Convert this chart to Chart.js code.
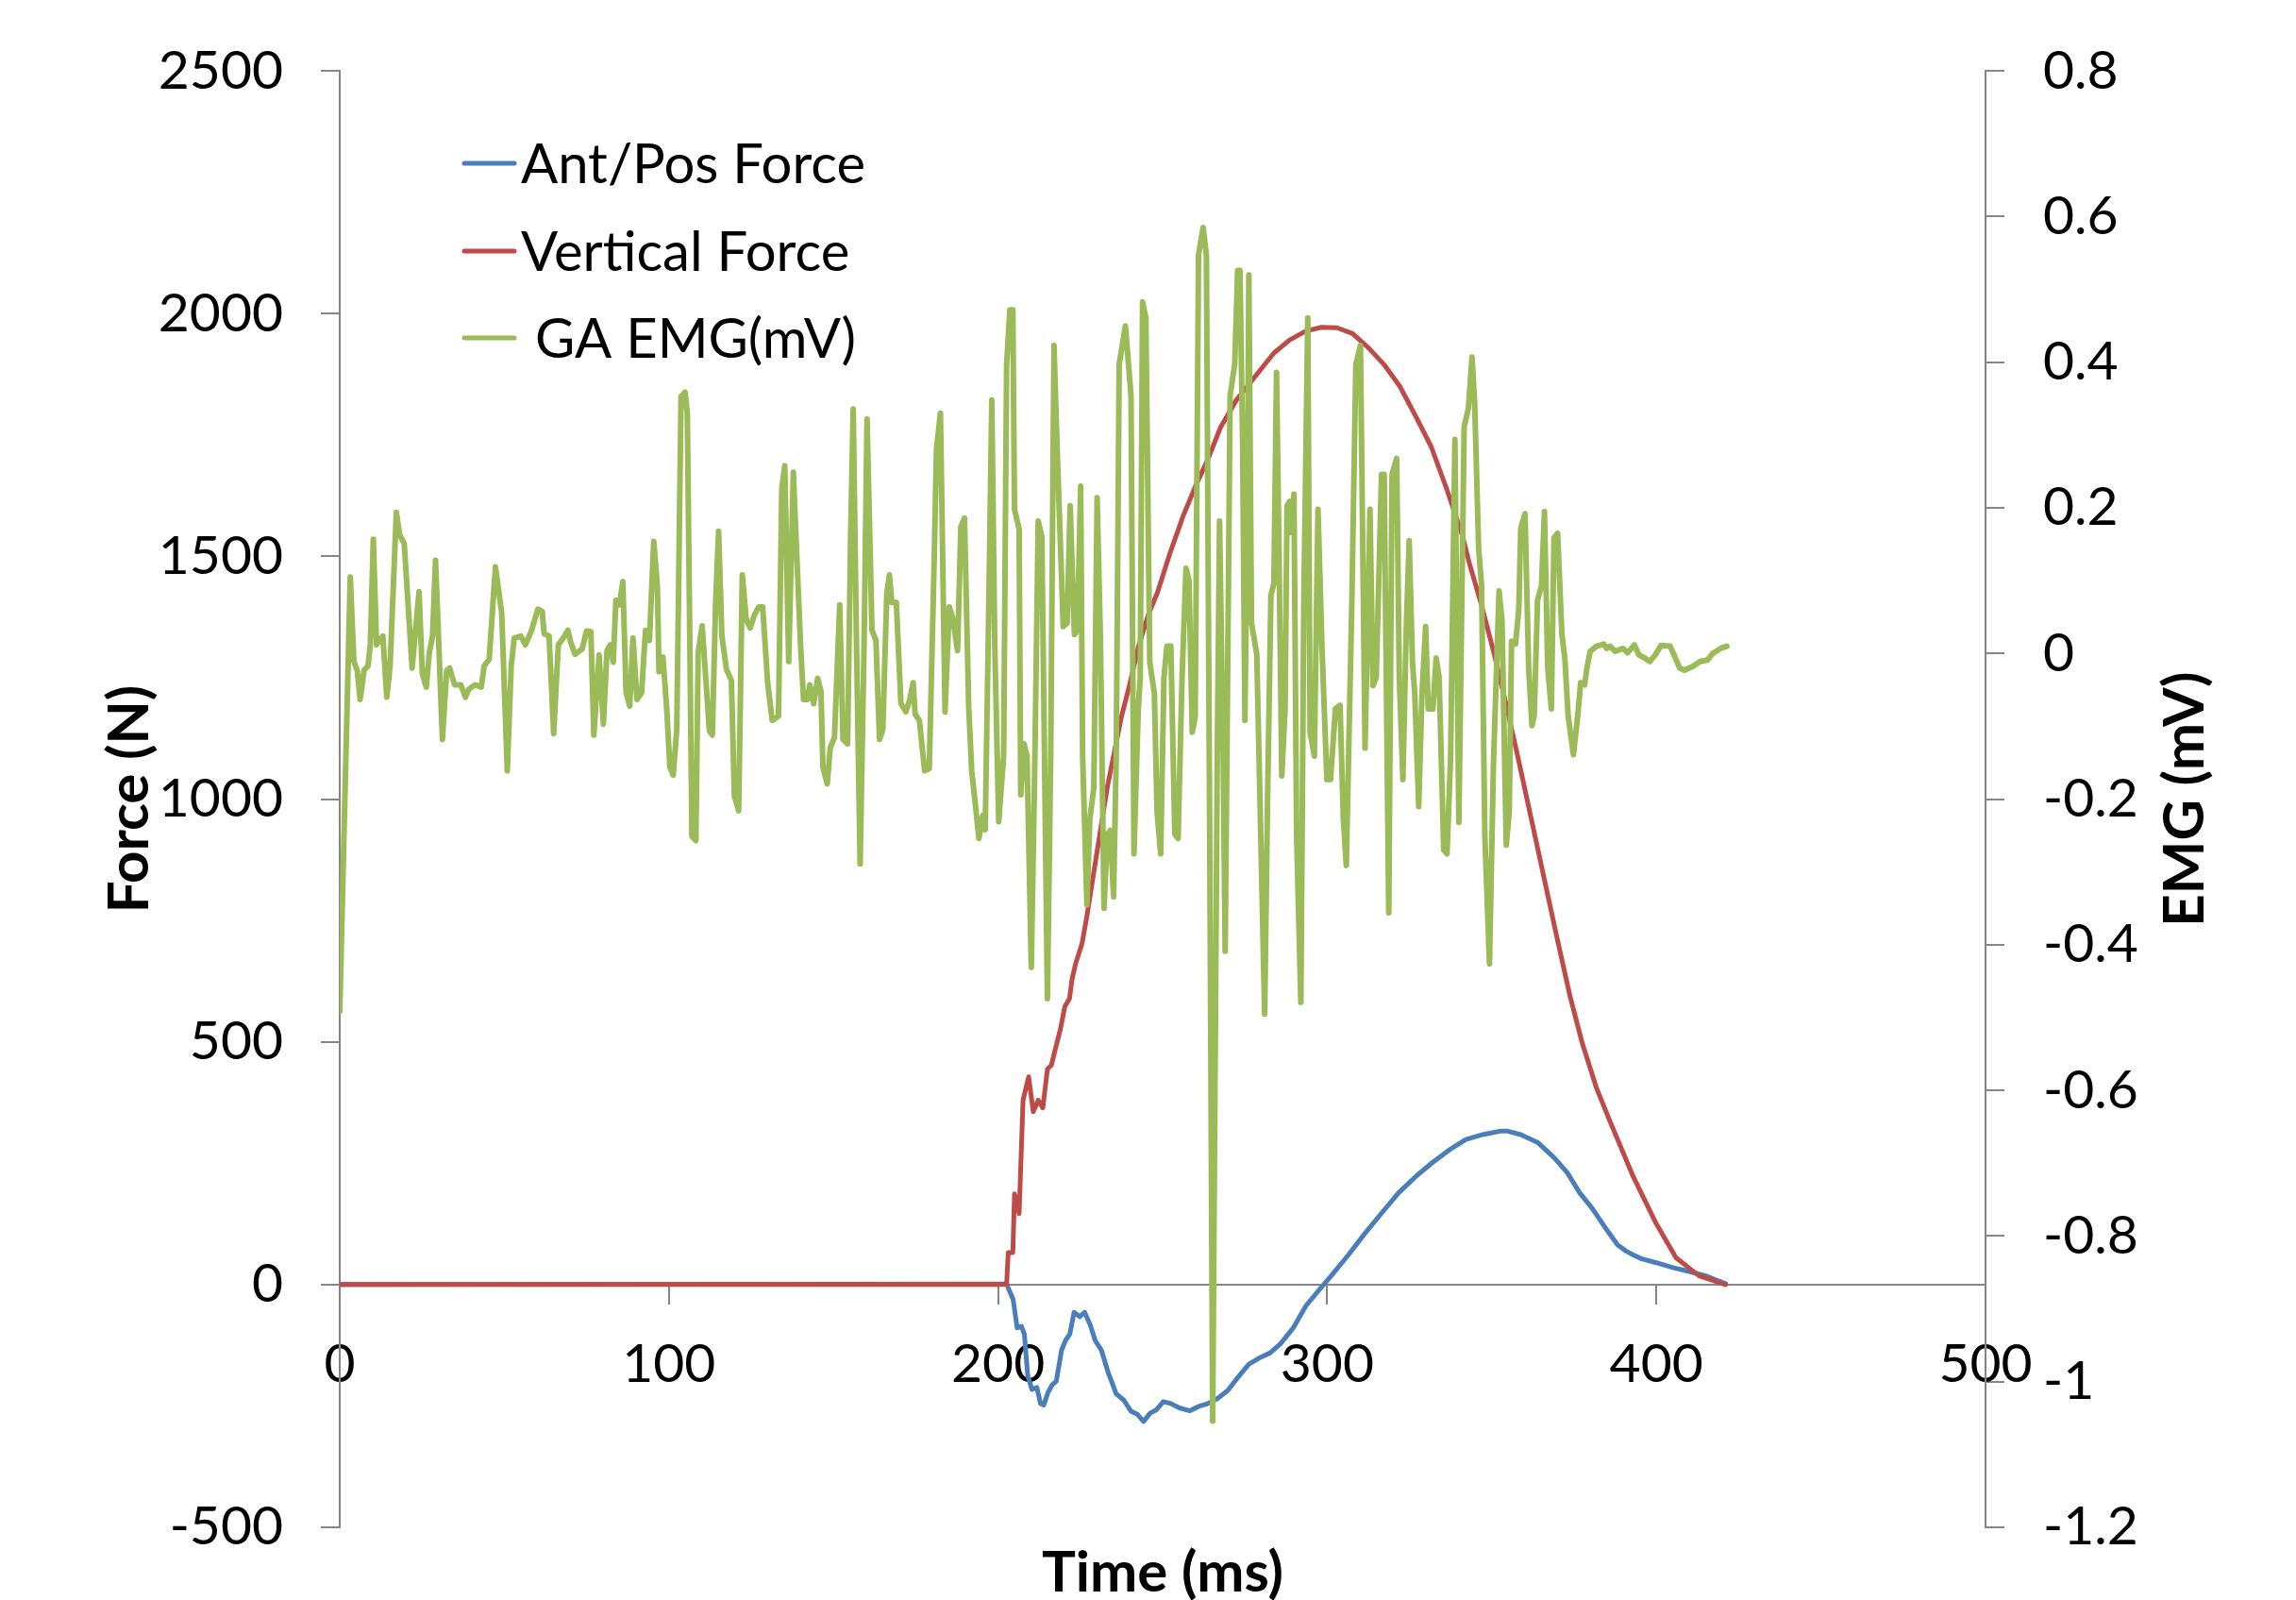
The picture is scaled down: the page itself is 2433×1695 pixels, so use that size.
<!DOCTYPE html>
<html>
<head>
<meta charset="utf-8">
<script src="https://cdn.jsdelivr.net/npm/chart.js@4.4.1/dist/chart.umd.min.js"></script>
<style>
  html, body { margin: 0; padding: 0; background: #fff; }
  #wrap { width: 2433px; height: 1695px; }
</style>
</head>
<body>
<div id="wrap"><canvas id="forceEmgChart" width="2433" height="1695"></canvas></div>
<script>
// time axis ticks (ms) and the two y axes
var timeTicks = [0, 100, 200, 300, 400, 500]
var forceTicks = [-500, 0, 500, 1000, 1500, 2000, 2500]
var emgTicks = [-1.2, -1, -0.8, -0.6, -0.4, -0.2, 0, 0.2, 0.4, 0.6, 0.8]

// Ant/Pos force (N)
var apTime = [
  0, 202.6, 204.6, 205.8, 207.1, 208.0, 209.0, 210.3, 211.8, 212.9,
  213.9, 215.2, 216.5, 217.7, 219.3, 220.5, 221.8, 223.1, 224.8, 226.3,
  228.0, 229.5, 231.4, 233.4, 235.9, 238.2, 240.4, 242.3, 244.2, 246.2,
  248.1, 250.2, 252.5, 255.1, 258.3, 260.9, 263.4, 266.6, 269.8, 273.0,
  276.2, 279.4, 282.6, 285.8, 289.7, 293.5, 297.4, 301.2, 306.3, 311.4,
  316.5, 321.7, 326.8, 331.9, 337.0, 342.1, 347.3, 352.4, 354.9, 358.8,
  363.9, 369.0, 372.9, 376.7, 380.5, 384.4, 388.2, 390.8, 393.3, 395.6,
  400, 405, 410, 415, 418, 421,
]
var apForce = [
  0, 1, -31, -89, -86, -102, -187, -216, -212, -245,
  -248, -222, -206, -199, -135, -115, -102, -57, -66, -57,
  -83, -115, -135, -180, -225, -238, -261, -267, -282, -265,
  -258, -241, -245, -254, -260, -251, -246, -235, -218, -190,
  -164, -151, -141, -122, -89, -44, -12, 18, 60, 105,
  147, 189, 222, 251, 277, 299, 309, 316, 316, 309,
  293, 261, 231, 189, 157, 118, 82, 69, 60, 53,
  45, 35, 27, 18, 10, 2,
]

// Vertical force (N)
var vertTime = [
  0, 201, 202.6, 203.1, 204.5, 205.0, 206.4, 207.6, 209.3, 210.7,
  212.2, 213.6, 215.0, 216.2, 217.4, 218.9, 220.3, 221.7, 222.5, 223.6,
  225.5, 227.0, 229.4, 231.3, 233.2, 235.1, 237.5, 239.9, 242.7, 245.6,
  248.5, 252.3, 256.1, 260.0, 263.8, 267.6, 272.4, 279.1, 283.8, 288.6,
  293.4, 298.2, 303.0, 307.7, 312.5, 317.3, 322.1, 326.8, 331.6, 336.4,
  341.2, 343.1, 346.9, 350.7, 354.5, 358.4, 362.2, 366.0, 369.8, 373.7,
  377.5, 381.8, 386, 393, 400, 406, 413, 421,
]
var vertForce = [
  0, 0, 1, 66, 66, 187, 146, 380, 428, 356,
  380, 364, 444, 452, 485, 525, 573, 589, 630, 662,
  702, 759, 863, 944, 1025, 1089, 1170, 1234, 1315, 1379,
  1427, 1508, 1581, 1645, 1701, 1766, 1822, 1879, 1919, 1946,
  1964, 1972, 1971, 1959, 1930, 1895, 1850, 1790, 1726, 1637,
  1540, 1488, 1399, 1300, 1191, 1072, 953, 834, 715, 596,
  497, 405, 335, 222, 125, 55, 18, 0,
]

// GA EMG (mV)
var emgTime = [
  0, 3.2, 4.3, 5.3, 6.2, 7.4, 8.6, 9.3, 10.2, 11.2,
  13.1, 14.3, 15.3, 17.2, 18.2, 19.6, 22.0, 24.1, 25.1, 26.3,
  27.2, 28.2, 29.1, 30.1, 31.2, 32.5, 33.4, 34.9, 36.8, 38.2,
  39.2, 41.1, 43.0, 43.9, 45.4, 47.3, 49.2, 50.9, 52.1, 53.0,
  55.0, 56.4, 58.3, 60.2, 61.5, 62.1, 63.6, 65.0, 66.4, 67.9,
  69.3, 70.2, 71.5, 73.6, 75.0, 76.3, 77.2, 78.8, 80.1, 81.2,
  82.2, 83.1, 83.9, 85.0, 86.0, 87.0, 88.1, 89.1, 90.3, 91.7,
  92.9, 94.1, 95.4, 96.5, 97.0, 98.2, 99.4, 100.3, 101.3, 102.4,
  103.7, 104.9, 105.6, 107.0, 108.2, 108.9, 110.1, 111.3, 112.3, 113.2,
  114.2, 115.1, 116.1, 117.5, 119.0, 119.9, 121.2, 122.3, 123.5, 124.7,
  126.0, 127.3, 128.5, 130.0, 131.4, 133.3, 134.3, 135.2, 136.4, 137.8,
  140.0, 140.9, 142.1, 142.8, 144.0, 145.2, 146.2, 146.8, 148.1, 149.0,
  150.3, 151.9, 152.9, 154.3, 155.2, 156.0, 157.0, 158.1, 159.3, 160.2,
  161.7, 162.9, 164.0, 165.0, 166.2, 167.0, 167.7, 169.1, 170.5, 172.0,
  173.2, 174.2, 174.8, 176.1, 177.7, 179.1, 180.6, 181.3, 182.5, 183.9,
  185.2, 186.3, 187.7, 188.7, 189.8, 191.1, 192.0, 194.2, 195.4, 196.1,
  197.3, 198.1, 199.0, 200.2, 201.7, 202.6, 203.6, 204.5, 205.0, 206.4,
  206.9, 207.9, 208.8, 210.1, 211.2, 212.2, 213.3, 215.0, 216.0, 217.0,
  217.9, 219.8, 221.0, 221.9, 223.2, 224.1, 225.1, 225.7, 227.0, 227.9,
  229.1, 230.1, 231.1, 232.2, 233.2, 234.1, 235.1, 235.9, 236.8, 238.7,
  240.4, 241.3, 242.6, 243.2, 243.9, 244.9, 246.1, 247.5, 248.3, 249.4,
  250.4, 251.3, 252.5, 253.7, 254.7, 255.9, 257.1, 258.0, 259.0, 259.9,
  260.9, 262.3, 263.3, 264.3, 265.2, 266.6, 267.3, 268.4, 269.0, 270.5,
  271.9, 272.8, 273.5, 274.3, 275.0, 275.7, 276.2, 277.0, 278.6, 279.8,
  281.0, 281.9, 282.9, 283.8, 284.6, 285.3, 286.2, 287.2, 287.8, 288.6,
  289.1, 289.9, 290.7, 292.0, 292.9, 294.1, 294.8, 296.1, 297.2, 298.4,
  299.9, 301.0, 302.5, 303.9, 304.9, 305.8, 307.5, 308.7, 310.1, 311.5,
  313.0, 313.9, 314.9, 316.5, 317.3, 318.7, 319.7, 321.1, 321.9, 323.0,
  324.0, 324.9, 325.9, 326.6, 327.8, 328.8, 329.9, 330.7, 332.1, 333.1,
  334.0, 335.4, 336.4, 337.5, 338.8, 340.0, 341.6, 342.9, 344.0, 344.8,
  346.0, 346.9, 347.9, 349.3, 350.5, 352.2, 353.1, 354.4, 355.3, 356.0,
  357.2, 358.2, 358.8, 360.1, 361.2, 362.2, 362.9, 363.9, 365.1, 366.0,
  367.0, 368.1, 368.9, 370.0, 371.3, 372.2, 373.2, 374.8, 376.1, 377.0,
  378.2, 378.9, 379.9, 381.8, 384.0, 384.9, 385.9, 387.5, 389.9, 391.3,
  393.3, 394.7, 396.1, 398.0, 399.5, 401.4, 404.2, 407.1, 408.5, 410.9,
  413.3, 415.5, 417.1, 419.5, 421.4,
]
var emgMv = [
  -0.491, 0.105, -0.011, -0.023, -0.063, -0.023, -0.017, 0.012, 0.157, 0.012,
  0.024, -0.060, -0.017, 0.194, 0.163, 0.151, -0.020, 0.085, -0.028, -0.046,
  0.001, 0.024, 0.128, 0.012, -0.118, -0.023, -0.020, -0.043, -0.043, -0.060,
  -0.049, -0.043, -0.046, -0.017, -0.008, 0.119, 0.056, -0.161, -0.017, 0.021,
  0.024, 0.012, 0.032, 0.061, 0.058, 0.027, 0.024, -0.110, 0.012, 0.021,
  0.032, 0.015, -0.001, 0.006, 0.031, 0.030, -0.112, -0.002, -0.097, 0.004,
  0.012, -0.012, 0.073, 0.067, 0.099, -0.054, -0.072, 0.021, -0.063, -0.054,
  0.032, 0.018, 0.154, 0.093, -0.025, -0.005, -0.080, -0.156, -0.167, -0.104,
  0.353, 0.359, 0.330, -0.251, -0.257, 0.001, 0.038, -0.040, -0.106, -0.112,
  0.070, 0.168, 0.024, -0.022, -0.037, -0.196, -0.216, 0.108, 0.047, 0.035,
  0.053, 0.064, 0.064, -0.040, -0.092, -0.086, 0.226, 0.258, -0.011, 0.249,
  0.012, -0.063, -0.063, -0.043, -0.069, -0.034, -0.052, -0.156, -0.179, -0.130,
  -0.115, 0.067, -0.118, -0.124, 0.157, 0.336, 0.012, -0.289, 0.012, 0.322,
  0.032, 0.018, -0.118, -0.104, 0.082, 0.108, 0.070, 0.070, -0.069, -0.080,
  -0.063, -0.040, -0.083, -0.092, -0.161, -0.158, 0.128, 0.281, 0.330, -0.080,
  0.064, 0.047, 0.004, 0.174, 0.186, -0.075, -0.161, -0.254, -0.222, -0.242,
  0.099, 0.348, 0.012, -0.231, -0.141, 0.397, 0.472, 0.472, 0.198, 0.171,
  -0.194, -0.124, -0.141, -0.431, -0.141, 0.182, 0.160, -0.474, -0.141, 0.423,
  0.289, 0.037, 0.042, 0.203, 0.026, 0.031, 0.230, -0.141, -0.345, -0.227,
  -0.184, 0.214, 0.021, -0.350, -0.248, -0.243, -0.334, -0.141, 0.397, 0.450,
  0.354, -0.275, -0.076, -0.033, 0.483, 0.461, -0.012, -0.055, -0.216, -0.275,
  -0.033, 0.010, 0.010, -0.248, -0.254, -0.033, 0.117, 0.101, -0.108, -0.087,
  0.547, 0.585, 0.547, -0.248, -1.054, -0.141, 0.182, -0.141, -0.409, 0.354,
  0.397, 0.526, 0.526, 0.289, -0.092, 0.182, 0.520, 0.042, -0.001, -0.248,
  -0.495, -0.194, 0.080, 0.096, 0.386, 0.160, -0.168, -0.076, 0.203, 0.209,
  0.166, 0.219, -0.248, -0.479, 0.074, 0.461, -0.108, -0.141, 0.198, 0.010,
  -0.173, -0.173, -0.076, -0.071, -0.227, -0.291, 0.074, 0.397, 0.423, -0.130,
  0.198, -0.044, -0.033, 0.246, 0.246, -0.356, 0.246, 0.268, -0.033, -0.173,
  0.031, 0.155, -0.012, -0.055, -0.210, -0.055, 0.037, -0.076, -0.076, -0.006,
  -0.033, -0.270, -0.275, -0.141, 0.294, -0.232, 0.311, 0.337, 0.407, 0.344,
  0.145, 0.093, -0.251, -0.426, -0.152, 0.086, 0.046, -0.263, -0.218, 0.017,
  0.013, 0.060, 0.172, 0.192, -0.020, -0.099, -0.086, 0.073, 0.093, 0.195,
  -0.020, -0.076, 0.159, 0.165, 0.026, -0.007, -0.086, -0.139, -0.086, -0.040,
  -0.043, -0.020, 0.003, 0.010, 0.013, 0.007, 0.010, 0.003, 0.007, 0.001,
  0.012, -0.002, -0.005, -0.011, -0.003, 0.011, 0.010, -0.020, -0.023, -0.018,
  -0.011, -0.009, 0.000, 0.007, 0.010,
]

function toPoints(xs, ys) {
  return xs.map(function (x, i) { return { x: x, y: ys[i] } })
}

var axisGray = '#868686'
var tickFont = { family: 'Lato', size: 57 }
var titleFont = 'bold 60px Lato'

// legend + axis titles, drawn on top of the chart
var extras = {
  id: 'extras',
  afterDraw: function (chart) {
    var c = chart.ctx
    var a = chart.chartArea
    var sets = chart.data.datasets
    c.save()
    c.font = '58px Lato'
    c.fillStyle = '#000'
    c.textBaseline = 'middle'
    c.textAlign = 'left'
    c.lineWidth = 5
    c.lineCap = 'round'
    var rowY = [173, 266, 358]
    var textX = [552, 552, 567]
    sets.forEach(function (ds, i) {
      c.strokeStyle = ds.borderColor
      c.beginPath()
      c.moveTo(492, rowY[i])
      c.lineTo(545, rowY[i])
      c.stroke()
      c.fillText(ds.label, textX[i], rowY[i] + 2)
    })

    c.font = titleFont
    c.textAlign = 'center'
    c.textBaseline = 'alphabetic'
    var midY = (a.top + a.bottom) / 2
    c.save()
    c.translate(157, midY)
    c.rotate(-Math.PI / 2)
    c.fillText('Force (N)', 0, 0)
    c.restore()
    c.save()
    c.translate(2335, midY)
    c.rotate(-Math.PI / 2)
    c.fillText('EMG (mV)', 0, 0)
    c.restore()
    c.fillText('Time (ms)', (a.left + a.right) / 2, 1686)
    c.restore()
  },
}

var plainNumber = function (v) { return String(Math.round(v * 10) / 10) }

var ctx = document.getElementById('forceEmgChart').getContext('2d')
var myChart = new Chart(ctx, {
  type: 'line',
  data: {
    datasets: [
      {
        label: 'Ant/Pos Force',
        data: toPoints(apTime, apForce),
        borderColor: '#4A7EBB',
        borderWidth: 5,
        yAxisID: 'y',
        order: 3,
      },
      {
        label: 'Vertical Force',
        data: toPoints(vertTime, vertForce),
        borderColor: '#BE4B48',
        borderWidth: 5,
        yAxisID: 'y',
        order: 2,
      },
      {
        label: 'GA EMG(mV)',
        data: toPoints(emgTime, emgMv),
        borderColor: '#9BBB59',
        borderWidth: 6,
        yAxisID: 'y1',
        order: 1,
      },
    ],
  },
  options: {
    responsive: false,
    animation: false,
    parsing: false,
    elements: {
      point: { radius: 0 },
      line: { tension: 0, borderJoinStyle: 'round', borderCapStyle: 'round', fill: false },
    },
    layout: { padding: { top: 74, bottom: 77, left: 0, right: 0 } },
    plugins: {
      legend: { display: false },
      tooltip: { enabled: false },
    },
    scales: {
      x: {
        type: 'linear',
        position: { y: 0 },
        min: timeTicks[0],
        max: timeTicks[timeTicks.length - 1],
        afterBuildTicks: function (s) { s.ticks = timeTicks.map(function (v) { return { value: v } }) },
        ticks: { font: tickFont, color: '#000', padding: 31, maxRotation: 0, autoSkip: false, callback: plainNumber },
        grid: { drawOnChartArea: false, drawTicks: true, tickLength: 20, color: axisGray, lineWidth: 2 },
        border: { display: true, color: axisGray, width: 2 },
      },
      y: {
        type: 'linear',
        position: 'left',
        min: forceTicks[0],
        max: forceTicks[forceTicks.length - 1],
        afterBuildTicks: function (s) { s.ticks = forceTicks.map(function (v) { return { value: v } }) },
        afterFit: function (s) { s.width = 360 },
        ticks: { font: tickFont, color: '#000', padding: 40, callback: plainNumber },
        grid: { drawOnChartArea: false, drawTicks: true, tickLength: 20, color: axisGray, lineWidth: 2 },
        border: { display: true, color: axisGray, width: 2 },
      },
      y1: {
        type: 'linear',
        position: 'right',
        min: emgTicks[0],
        max: emgTicks[emgTicks.length - 1],
        afterBuildTicks: function (s) { s.ticks = emgTicks.map(function (v) { return { value: v } }) },
        afterFit: function (s) { s.width = 329 },
        ticks: { font: tickFont, color: '#000', padding: 41, callback: plainNumber },
        grid: { drawOnChartArea: false, drawTicks: true, tickLength: 20, color: axisGray, lineWidth: 2 },
        border: { display: true, color: axisGray, width: 2 },
      },
    },
  },
  plugins: [extras],
})
</script>
</body>
</html>
